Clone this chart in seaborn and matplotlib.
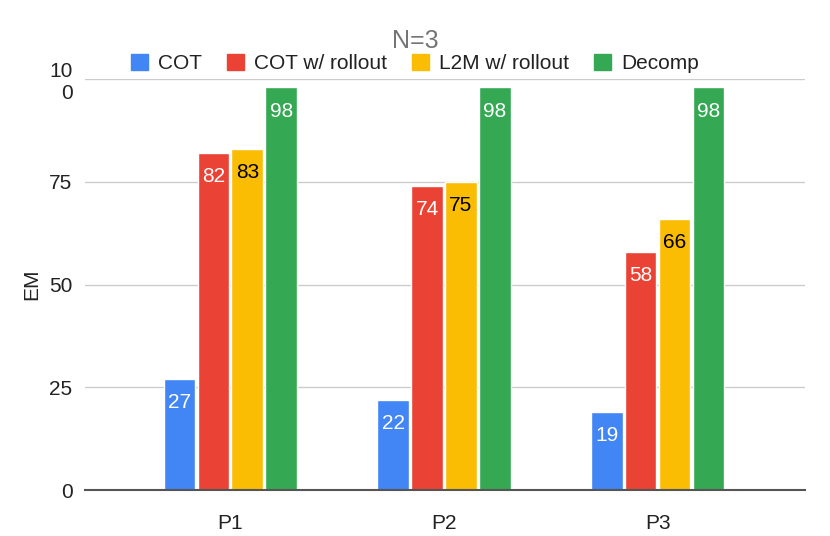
import pandas as pd
import seaborn as sns
import matplotlib.pyplot as plt

problems = ["P1", "P2", "P3"]
methods = ["COT", "COT w/ rollout", "L2M w/ rollout", "Decomp"]
cot = [27, 22, 19]
cot_rollout = [82, 74, 58]
l2m_rollout = [83, 75, 66]
decomp = [98, 98, 98]

colors = ["#4285F4", "#EA4335", "#FBBC04", "#34A853"]
label_colors = ["white", "white", "black", "white"]

rows = []
for m, vals in zip(methods, [cot, cot_rollout, l2m_rollout, decomp]):
    for p, v in zip(problems, vals):
        rows.append({"problem": p, "method": m, "EM": v})
df = pd.DataFrame(rows)

sns.set_style("white")
plt.rcParams["font.family"] = ["Liberation Sans", "DejaVu Sans"]
plt.rcParams["text.color"] = "#222222"
plt.rcParams["xtick.color"] = "#222222"
plt.rcParams["ytick.color"] = "#222222"
plt.rcParams["axes.labelcolor"] = "#222222"

fig = plt.figure(figsize=(8.3, 5.36), dpi=100)
ax = fig.add_axes([0.1024, 0.0858, 0.8676, 0.7668])

sns.barplot(data=df, x="problem", y="EM", hue="method", palette=colors,
            width=0.635, gap=0.07, saturation=1, ax=ax, legend=False)

for cont, c in zip(ax.containers, label_colors):
    ax.bar_label(cont, padding=-24, color=c, fontsize=15)

ax.set_ylim(0, 100)
ax.set_xlim(-0.68, 2.69)
ax.set_yticks([0, 25, 50, 75, 100])
ax.set_yticklabels(["0", "25", "50", "75", "10\n0"], fontsize=15)
ax.tick_params(axis="x", labelsize=15, length=0, pad=17)
ax.tick_params(axis="y", length=0, pad=9)
ax.yaxis.grid(True, color="#cccccc", linewidth=1)
ax.set_axisbelow(True)
for s in ["top", "right", "left"]:
    ax.spines[s].set_visible(False)
ax.spines["bottom"].set_color("#555555")
ax.spines["bottom"].set_linewidth(1.5)
ax.set_xlabel("")
ax.set_ylabel("EM", fontsize=15, labelpad=6)

fig.suptitle("N=3", y=0.945, fontsize=18, color="#757575")

handles = [plt.Rectangle((0, 0), 1, 1, color=c) for c in colors]
fig.legend(handles, methods, loc="center", bbox_to_anchor=(0.5, 0.882),
           ncol=4, frameon=False, fontsize=15, handlelength=0.8,
           handleheight=0.8, handletextpad=0.5, columnspacing=1.2)

fig.savefig("out.png", dpi=100)
